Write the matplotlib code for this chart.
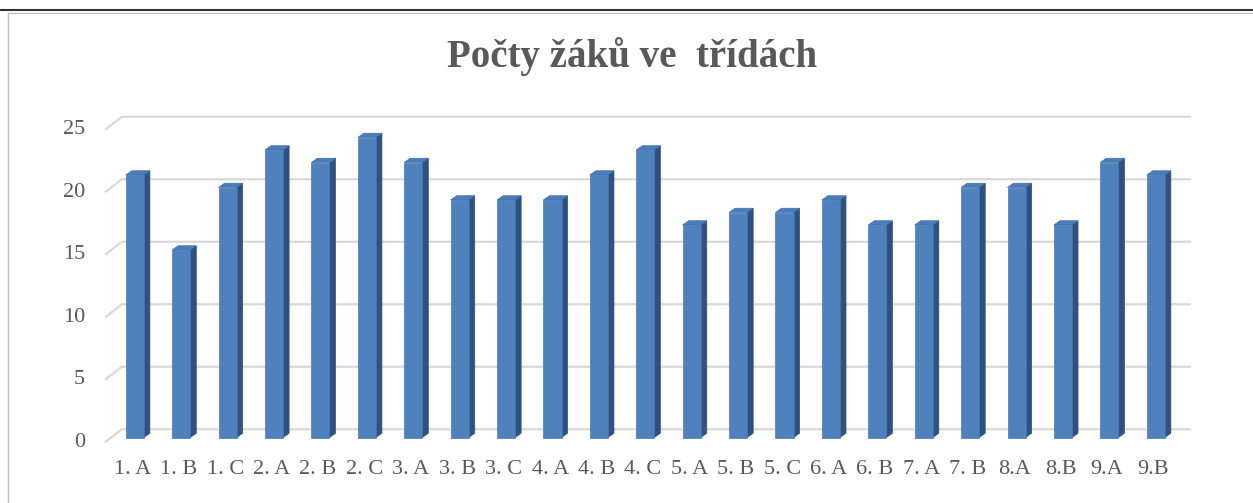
import matplotlib.pyplot as plt
from matplotlib.patches import Polygon
from matplotlib.lines import Line2D
import matplotlib.transforms as mtransforms

# ================================
# DATA
# ================================
TRIDY = ["1. A", "1. B", "1. C", "2. A", "2. B", "2. C", "3. A", "3. B", "3. C",
         "4. A", "4. B", "4. C", "5. A", "5. B", "5. C", "6. A", "6. B", "7. A",
         "7. B", "8.A", "8.B", "9.A", "9.B"]
ZACI = [21, 15, 20, 23, 22, 24, 22, 19, 19, 19, 21, 23, 17, 18, 18, 19, 17, 17,
        20, 20, 17, 22, 21]
Y_TICKS = [0, 5, 10, 15, 20, 25]
TITULEK = "Počty žáků ve  třídách"

# ================================
# STYL
# ================================
C_FRONT = "#4F81BD"
C_SIDE = "#2F5180"
C_TOP = "#4A7DBA"
C_GRID = "#D9D9D9"
C_TEXT = "#595959"
FONT = ["Liberation Serif", "DejaVu Serif"]

W = 0.39          # sirka sloupce
BAR_DX, BAR_DY = 0.13, 0.34     # hloubka sloupce (3D)
WALL_DX = 0.36                  # hloubka podlahy
FRONT_DY, BACK_DY = -0.38, 0.66

fig = plt.figure(figsize=(12.53, 5.03), dpi=100)
ax = fig.add_axes([100 / 1253, 43 / 503, 1137 / 1253, 360 / 503])
n = len(TRIDY)
ax.set_xlim(-0.75, n + 0.75)
ax.set_ylim(-1.8, 27.0)
ax.axis("off")

# mrizka se 3D nabehem vlevo
x_front = -0.64
for v in Y_TICKS:
    ax.plot([x_front, x_front + WALL_DX, n - 0.24],
            [v + FRONT_DY, v + BACK_DY, v + BACK_DY],
            color=C_GRID, lw=1.6, zorder=1, solid_capstyle="butt")
    ax.text(-0.013, v + FRONT_DY, str(v), transform=mtransforms.blended_transform_factory(ax.transAxes, ax.transData),
            ha="right", va="center", fontsize=16, color=C_TEXT, family=FONT)

# sloupce
for i, v in enumerate(ZACI):
    x0, x1 = i - W / 2, i + W / 2
    side = [(x1, 0), (x1 + BAR_DX, BAR_DY), (x1 + BAR_DX, v + BAR_DY), (x1, v)]
    top = [(x0, v), (x1, v), (x1 + BAR_DX, v + BAR_DY), (x0 + BAR_DX, v + BAR_DY)]
    front = [(x0, 0), (x1, 0), (x1, v), (x0, v)]
    ax.add_patch(Polygon(side, closed=True, fc=C_SIDE, ec=C_SIDE, lw=0.5, zorder=2))
    ax.add_patch(Polygon(top, closed=True, fc=C_TOP, ec="#3F6EA8", lw=0.5, zorder=3))
    ax.add_patch(Polygon(front, closed=True, fc=C_FRONT, ec="#4677B2", lw=0.5, zorder=4))
    ax.text(i - 0.05, -2.6, TRIDY[i], ha="center", va="center", fontsize=16,
            color=C_TEXT, family=FONT, clip_on=False)

fig.text(632 / 1253, 1 - 57 / 503, TITULEK, ha="center", va="center",
         fontsize=28, fontweight="bold", color=C_TEXT, family=FONT)

# ramecek grafu
fig.add_artist(Line2D([0, 1], [1 - 9.5 / 503] * 2, color="#333333", lw=1.5))
fig.add_artist(Line2D([8 / 1253, 1], [1 - 12.5 / 503] * 2, color="#BFBFBF", lw=1.0))
fig.add_artist(Line2D([8 / 1253] * 2, [0, 1 - 12.5 / 503], color="#BFBFBF", lw=1.0))

fig.savefig("out.png", dpi=100, facecolor="white")
